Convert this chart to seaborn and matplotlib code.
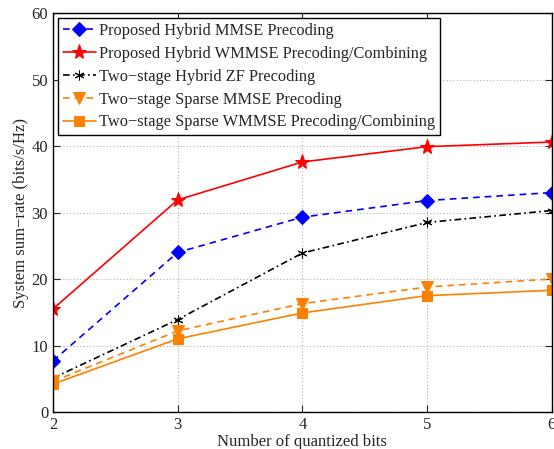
import matplotlib
matplotlib.use("Agg")
import matplotlib.pyplot as plt
import seaborn as sns
import pandas as pd

bits = [2, 3, 4, 5, 6]
hybrid_mmse = [7.7, 24.0, 29.3, 31.8, 33.0]
hybrid_wmmse = [15.5, 31.9, 37.6, 39.9, 40.6]
twostage_zf = [5.1, 13.9, 23.9, 28.5, 30.3]
sparse_mmse = [4.6, 12.2, 16.3, 18.8, 20.0]
sparse_wmmse = [4.2, 11.0, 14.9, 17.5, 18.3]
labels = ["Proposed Hybrid MMSE Precoding",
          "Proposed Hybrid WMMSE Precoding/Combining",
          "Two\u2212stage Hybrid ZF Precoding",
          "Two\u2212stage Sparse MMSE Precoding",
          "Two\u2212stage Sparse WMMSE Precoding/Combining"]
yticks = [0, 10, 20, 30, 40, 50, 60]

sns.set_style("ticks")
plt.rcParams['font.family'] = ['Liberation Serif', 'DejaVu Serif']

fig = plt.figure(figsize=(5.54, 4.49), dpi=100)
ax = fig.add_axes([0.0957, 0.0824, 0.9, 0.8886])

orange = '#ff8000'
styles = [
    (hybrid_mmse, 'blue', (0, (4, 3)), 'D', 7),
    (hybrid_wmmse, 'red', '-', '*', 11),
    (twostage_zf, 'black', (0, (4, 2, 1, 2)), (6, 2, 0), 7),
    (sparse_mmse, orange, (0, (4, 3)), 'v', 9),
    (sparse_wmmse, orange, '-', 's', 7),
]
for (vals, c, ls, m, ms), lab in zip(styles, labels):
    df = pd.DataFrame({'x': bits, 'y': vals})
    sns.lineplot(data=df, x='x', y='y', ax=ax, color=c, linestyle=ls,
                 marker=m, markersize=ms, markeredgecolor=c, markerfacecolor=c,
                 linewidth=1.2, label=lab)

ax.set_xlim(2, 6)
ax.set_ylim(0, 60)
ax.set_xticks(bits)
ax.set_yticks(yticks)
ax.grid(True, color='#b0b0b0', linestyle=(0, (1, 2)), linewidth=0.8)
ax.tick_params(direction='in', labelsize=12, length=5, top=True, right=True)
for s in ax.spines.values():
    s.set_linewidth(1.0)
    s.set_color('black')
ax.set_xlabel("Number of quantized bits", fontsize=12, labelpad=1)
ax.set_ylabel("System sum\u2212rate (bits/s/Hz)", fontsize=12, labelpad=2)

leg = ax.legend(loc='upper left', fontsize=11.8, frameon=True, fancybox=False,
                edgecolor='black', framealpha=1, borderpad=0.3, labelspacing=0.42,
                handlelength=2.0, handletextpad=0.2, borderaxespad=0.3)
leg.get_frame().set_linewidth(1.0)

fig.savefig("out.png", dpi=100)
